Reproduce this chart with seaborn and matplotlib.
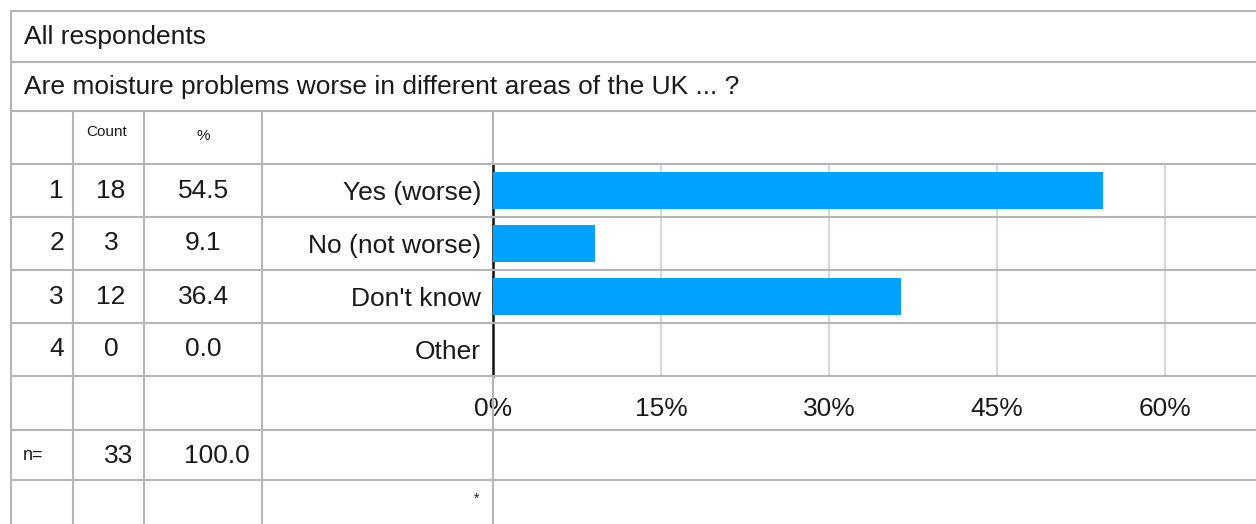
import matplotlib
matplotlib.use("Agg")
import matplotlib.pyplot as plt
import matplotlib.transforms as mtransforms
from matplotlib.lines import Line2D
import seaborn as sns

# data
answers = ["Yes (worse)", "No (not worse)", "Don't know", "Other"]
row_ids = ["1", "2", "3", "4"]
counts = [18, 3, 12, 0]
percents = [54.5, 9.1, 36.4, 0.0]
n_total = 33
pct_total = 100.0
xticks = [0, 15, 30, 45, 60]

group_title = "All respondents"
question = "Are moisture problems worse in different areas of the UK ... ?"

sns.set_style("white")
plt.rcParams["font.family"] = ["Liberation Sans", "DejaVu Sans"]

W, H = 1256, 524
fig = plt.figure(figsize=(W / 100, H / 100), dpi=100)

txt = "#1a1a1a"
line_c = "#b5b5b5"
bar_c = "#00a2ff"


def fx(x):
    return x / W


def fy(y):
    return 1 - y / H


# bar chart area
ax = fig.add_axes([fx(493), fy(376), fx(W - 493), (376 - 164) / H])
sns.barplot(x=percents, y=answers, orient="h", color=bar_c, width=0.68,
            linewidth=0, saturation=1, ax=ax, zorder=3)
ax.set_xlim(0, (W - 493) / 11.2)
ax.set_ylim(3.5, -0.5)
ax.set_xticks(xticks)
ax.set_xticklabels([f"{t}%" for t in xticks])
ax.tick_params(axis="y", length=0, pad=8.5, labelsize=19, labelcolor=txt)
ax.tick_params(axis="x", length=0, pad=15, labelsize=19, labelcolor=txt)
ax.grid(axis="x", color="#d0d0d0", lw=1.2, zorder=0)
ax.grid(axis="y", visible=False)
for s in ["top", "right", "bottom"]:
    ax.spines[s].set_visible(False)
ax.spines["left"].set_color("#111111")
ax.spines["left"].set_linewidth(1.8)
ax.set_xlabel("")
ax.set_ylabel("")

rows = mtransforms.blended_transform_factory(fig.transFigure, ax.transData)


def hline(y, x0=11, x1=W):
    fig.add_artist(Line2D([fx(x0), fx(x1)], [fy(y), fy(y)], color=line_c, lw=1.5))


def vline(x, y0, y1):
    fig.add_artist(Line2D([fx(x), fx(x)], [fy(y0), fy(y1)], color=line_c, lw=1.5))


# table grid
for y in [11, 62, 111, 430, 480]:
    hline(y)
for i in range(len(answers) + 1):
    fig.add_artist(Line2D([fx(11), 1], [i - 0.5, i - 0.5], transform=rows,
                          color=line_c, lw=1.5))
vline(11, 11, H)
for x in [73, 144, 262]:
    vline(x, 111, H)
vline(493, 111, 164)
vline(493, 376, H)

# header texts
fig.text(fx(24), fy(37), group_title, fontsize=19, color=txt, va="center")
fig.text(fx(24), fy(87), question, fontsize=19, color=txt, va="center")
fig.text(fx(107), fy(132), "Count", fontsize=11, color=txt, ha="center", va="center")
fig.text(fx(203), fy(136), "%", fontsize=11, color=txt, ha="center", va="center")

# table rows
for i in range(len(answers)):
    fig.text(fx(64), i, row_ids[i], transform=rows, fontsize=19, color=txt,
             ha="right", va="center")
    fig.text(fx(111), i, str(counts[i]), transform=rows, fontsize=19, color=txt,
             ha="center", va="center")
    fig.text(fx(203.5), i, f"{percents[i]:.1f}", transform=rows, fontsize=19,
             color=txt, ha="center", va="center")

# totals row
fig.text(fx(23), fy(455), "n=", fontsize=13, color=txt, va="center")
fig.text(fx(133), fy(456), str(n_total), fontsize=19, color=txt, ha="right", va="center")
fig.text(fx(250), fy(456), f"{pct_total:.1f}", fontsize=19, color=txt, ha="right", va="center")
fig.text(fx(477), fy(499), "*", fontsize=10, color=txt, ha="center", va="center")

fig.savefig("out.png", dpi=100)
